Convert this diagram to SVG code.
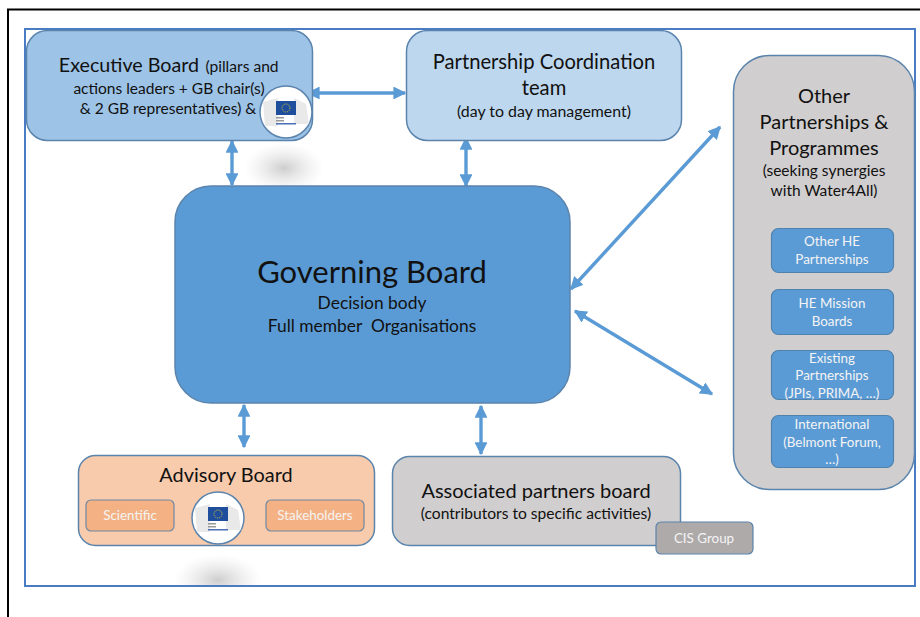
<svg xmlns="http://www.w3.org/2000/svg" width="920" height="617" viewBox="0 0 920 617">
<style>
text{font-family:Lato,"Open Sans","Liberation Sans",sans-serif;text-anchor:middle;fill:#111}
.w{fill:#f4f4f4}
.box{stroke:#5b84ad;stroke-width:1.5}
.sub{fill:#5b9bd5;stroke:#4f82ad;stroke-width:1.2}
.conn{stroke:#5b9bd5;stroke-width:3.4;fill:none;marker-start:url(#a);marker-end:url(#a)}
.logo{fill:#fff;stroke:#5b84ad;stroke-width:1.5}
</style>
<defs>
<marker id="a" viewBox="0 0 10 10" refX="9" refY="5" markerWidth="3.800" markerHeight="3.800" orient="auto-start-reverse" markerUnits="strokeWidth"><path d="M0 0L10 5L0 10Z" fill="#5b9bd5"/></marker>
<radialGradient id="s"><stop offset="0" stop-color="#c4c4c4" stop-opacity=".85"/><stop offset=".45" stop-color="#d4d4d4" stop-opacity=".5"/><stop offset="1" stop-color="#e4e4e4" stop-opacity="0"/></radialGradient>
<clipPath id="c"><rect x="150" y="550" width="140" height="35"/></clipPath>
<g id="logo">
<circle r="26" class="logo"/>
<path d="M-23-10L-8-14V14H-21ZM8-14L20-8L23 12H8Z" fill="#e9e9e9"/>
<rect x="-10" y="-11" width="20" height="14" fill="#1f4f9c"/>
<circle cx="0" cy="-4" r="4" fill="none" stroke="#d8c63a" stroke-width="1" stroke-dasharray="1 1"/>
<rect x="-10" y="5" width="8" height="1.500" fill="#999"/>
<rect x="-10" y="8" width="8" height="1.500" fill="#999"/>
<rect x="-10" y="11" width="20" height="1.500" fill="#4a6fb5"/>
</g>
</defs>
<g id="frame" fill="none">
<path d="M8 617V9.500H920" stroke="#000" stroke-width="2"/>
<rect x="25" y="29" width="890" height="557" stroke="#4a7cc4" stroke-width="2"/>
</g>
<g id="shadows">
<ellipse cx="284" cy="168" rx="40" ry="25" fill="url(#s)"/>
<ellipse cx="218" cy="580" rx="44" ry="26" fill="url(#s)" clip-path="url(#c)"/>
</g>
<g id="connectors">
<path class="conn" d="M232 141V185"/>
<path class="conn" d="M466 138V186"/>
<path class="conn" d="M308 93H405"/>
<path class="conn" d="M244 405V447"/>
<path class="conn" d="M481 406V454"/>
<path class="conn" d="M571 289L720 127"/>
<path class="conn" d="M575 311L712 394"/>
</g>
<g id="executive-board">
<rect class="box" x="26.500" y="30.500" width="286" height="110" rx="21" fill="#9dc3e6"/>
<text x="129" y="72" font-size="19.700">Executive Board</text>
<text x="242" y="72" font-size="15.600">(pillars and</text>
<text x="169" y="94" font-size="15.500">actions leaders + GB chair(s)</text>
<text x="168" y="114" font-size="15.500">&amp; 2 GB representatives) &amp;</text>
<use href="#logo" x="286" y="112"/>
</g>
<g id="partnership-coordination">
<rect class="box" x="406.500" y="30.500" width="275" height="110" rx="21" fill="#bdd7ee"/>
<text x="544" y="69" font-size="20.200">Partnership Coordination</text>
<text x="544" y="95" font-size="20.200">team</text>
<text x="544" y="117" font-size="15.900">(day to day management)</text>
</g>
<g id="governing-board">
<rect class="box" x="175" y="186" width="395" height="217" rx="36" fill="#5b9bd5"/>
<text x="372" y="283" font-size="31">Governing Board</text>
<text x="372" y="309" font-size="17.400">Decision body</text>
<text x="372" y="332" font-size="17.400" style="white-space:pre">Full member  Organisations</text>
</g>
<g id="other-partnerships">
<rect class="box" x="733.500" y="55.500" width="181" height="434" rx="36" fill="#d0cece"/>
<text x="824" y="103" font-size="20">Other</text>
<text x="824" y="129" font-size="20">Partnerships &amp;</text>
<text x="824" y="155" font-size="20">Programmes</text>
<text x="824" y="176" font-size="15.500">(seeking synergies</text>
<text x="824" y="196" font-size="15.500">with Water4All)</text>
</g>
<g id="other-he">
<rect class="sub" x="771.500" y="228.500" width="122" height="44" rx="7"/>
<text class="w" x="832" y="246" font-size="13.400">Other HE</text>
<text class="w" x="832" y="264" font-size="13.400">Partnerships</text>
</g>
<g id="he-mission">
<rect class="sub" x="771.500" y="289.500" width="122" height="45" rx="7"/>
<text class="w" x="832" y="308" font-size="13.400">HE Mission</text>
<text class="w" x="832" y="326" font-size="13.400">Boards</text>
</g>
<g id="existing">
<rect class="sub" x="771.500" y="350.500" width="122" height="49" rx="7"/>
<text class="w" x="832" y="363" font-size="13.400">Existing</text>
<text class="w" x="832" y="380" font-size="13.400">Partnerships</text>
<text class="w" x="832" y="398" font-size="13.400">(JPIs, PRIMA, …)</text>
</g>
<g id="international">
<rect class="sub" x="771.500" y="415.500" width="122" height="52" rx="7"/>
<text class="w" x="832" y="429" font-size="13.400">International</text>
<text class="w" x="832" y="447" font-size="13.400">(Belmont Forum,</text>
<text class="w" x="832" y="464" font-size="13.400">…)</text>
</g>
<g id="advisory-board">
<rect class="box" x="78.500" y="455.500" width="296" height="90" rx="17" fill="#f8cbad"/>
<text x="226" y="482" font-size="19.900">Advisory Board</text>
</g>
<g id="scientific">
<rect x="86" y="500" width="88" height="31" rx="5" fill="#f4b183" stroke="#6f89a3" stroke-width="1.200"/>
<text class="w" x="130" y="520" font-size="13.400">Scientific</text>
</g>
<g id="stakeholders">
<rect x="266" y="500" width="98" height="31" rx="5" fill="#f4b183" stroke="#6f89a3" stroke-width="1.200"/>
<text class="w" x="315" y="520" font-size="13.400">Stakeholders</text>
</g>
<g id="advisory-logo"><use href="#logo" x="218" y="518"/></g>
<g id="associated-partners">
<rect class="box" x="392.500" y="456.500" width="288" height="89" rx="17" fill="#d0cece"/>
<text x="536" y="498" font-size="20">Associated partners board</text>
<text x="536" y="519" font-size="15.600">(contributors to specific activities)</text>
</g>
<g id="cis-group">
<rect x="656" y="522" width="97" height="32" rx="5" fill="#aeaaaa" stroke="#5b84ad" stroke-width="1.200"/>
<text class="w" x="704" y="543" font-size="13.400">CIS Group</text>
</g>
</svg>
